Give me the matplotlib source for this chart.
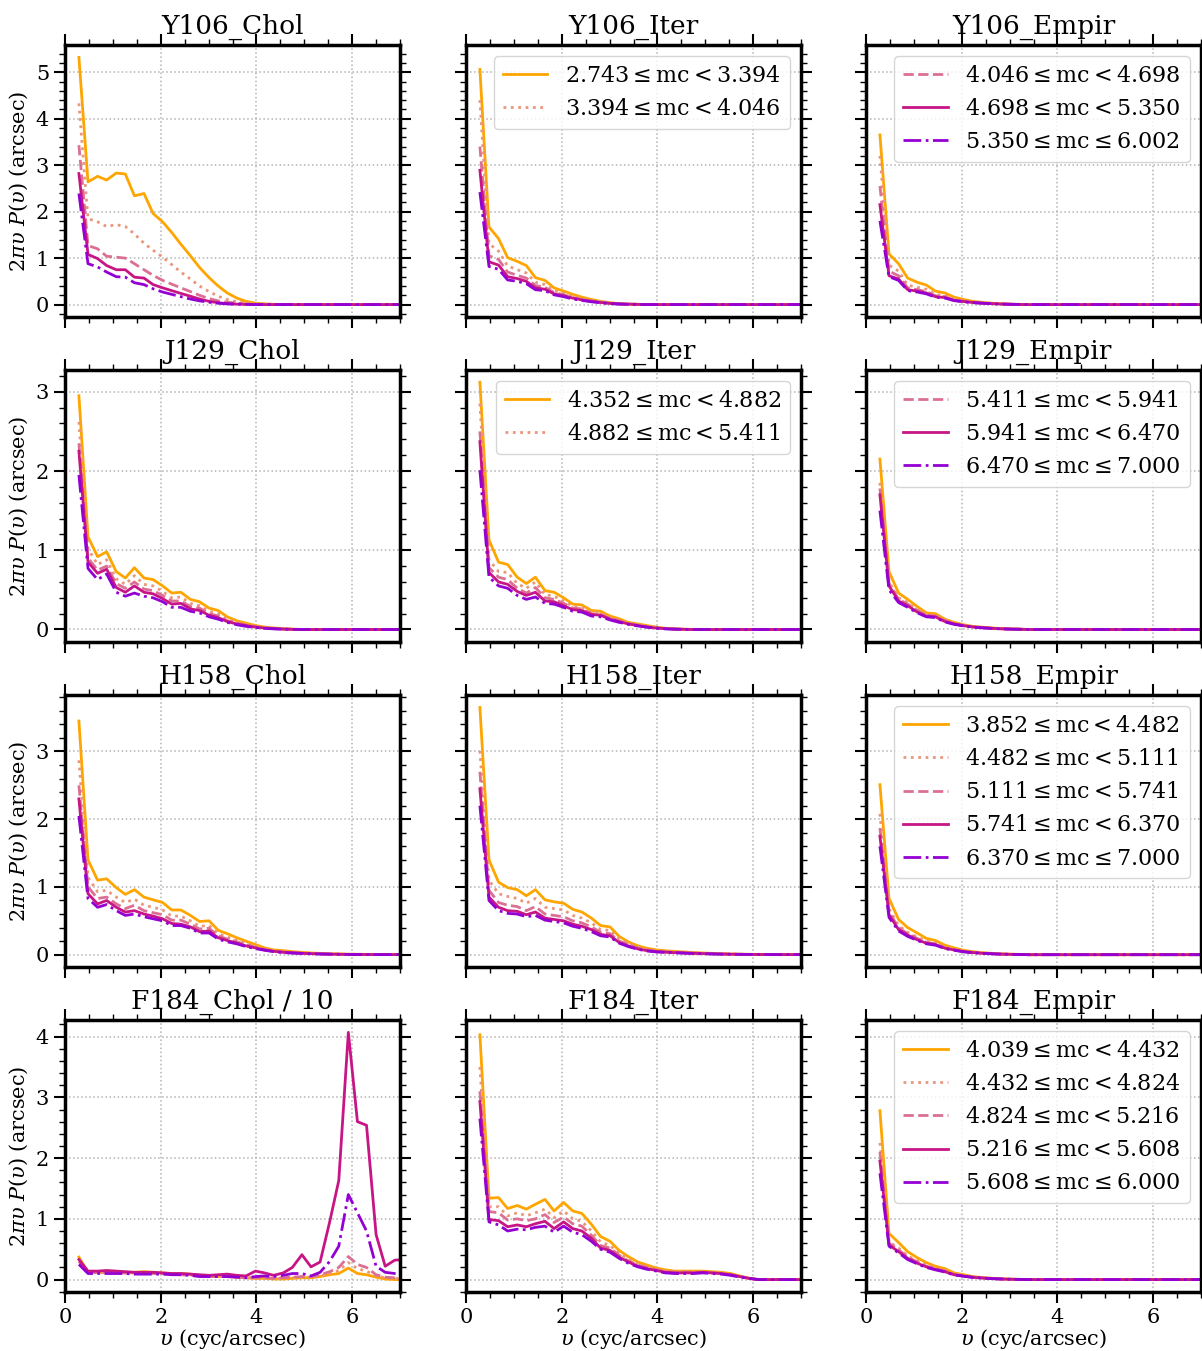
import numpy as np
import matplotlib.pyplot as plt
from matplotlib.ticker import AutoMinorLocator

plt.rcParams['font.family'] = 'serif'
plt.rcParams['font.serif'] = ['DejaVu Serif']
plt.rcParams['mathtext.fontset'] = 'dejavuserif'

# spatial frequency grid (cyc/arcsec)
freq = [0.29, 0.48, 0.68, 0.87, 1.07, 1.26, 1.45, 1.65, 1.84, 2.04, 2.23, 2.42,
        2.62, 2.81, 3.01, 3.20, 3.39, 3.59, 3.78, 3.98, 4.17, 4.36, 4.56, 4.75,
        4.95, 5.14, 5.33, 5.53, 5.72, 5.92, 6.11, 6.30, 6.50, 6.69, 6.89, 7.08]

filters = ['Y106', 'J129', 'H158', 'F184']
methods = ['Chol', 'Iter', 'Empir']

# magnitude-bin edges per filter
y106_edges = [2.743, 3.394, 4.046, 4.698, 5.350, 6.002]
j129_edges = [4.352, 4.882, 5.411, 5.941, 6.470, 7.000]
h158_edges = [3.852, 4.482, 5.111, 5.741, 6.370, 7.000]
f184_edges = [4.039, 4.432, 4.824, 5.216, 5.608, 6.000]

# 2 pi nu P(nu), one row per mc bin
y106_chol = [
    [5.32, 2.64, 2.76, 2.68, 2.83, 2.81, 2.34, 2.39, 1.96, 1.78, 1.55, 1.30, 1.05, 0.80, 0.58, 0.40, 0.25, 0.14,
     0.07, 0.03, 0.015, 0.005, 0, 0, 0, 0, 0, 0, 0, 0, 0, 0, 0, 0, 0, 0],
    [4.33, 1.85, 1.78, 1.68, 1.72, 1.68, 1.52, 1.32, 1.17, 1.02, 0.86, 0.70, 0.55, 0.40, 0.28, 0.18, 0.11, 0.06,
     0.03, 0.02, 0.01, 0.005, 0, 0, 0, 0, 0, 0, 0, 0, 0, 0, 0, 0, 0, 0],
    [3.43, 1.27, 1.20, 1.04, 1.02, 1.00, 0.88, 0.75, 0.63, 0.52, 0.44, 0.36, 0.28, 0.20, 0.13, 0.08, 0.05, 0.03,
     0.01, 0.005, 0, 0, 0, 0, 0, 0, 0, 0, 0, 0, 0, 0, 0, 0, 0, 0],
    [2.82, 1.08, 0.99, 0.84, 0.75, 0.75, 0.59, 0.57, 0.43, 0.36, 0.30, 0.24, 0.18, 0.12, 0.07, 0.04, 0.02, 0.01,
     0.005, 0, 0, 0, 0, 0, 0, 0, 0, 0, 0, 0, 0, 0, 0, 0, 0, 0],
    [2.39, 0.88, 0.81, 0.70, 0.60, 0.59, 0.47, 0.43, 0.34, 0.27, 0.22, 0.17, 0.12, 0.08, 0.05, 0.03, 0.015, 0.01,
     0.005, 0, 0, 0, 0, 0, 0, 0, 0, 0, 0, 0, 0, 0, 0, 0, 0, 0],
]
y106_iter = [
    [5.06, 1.67, 1.42, 1.01, 0.93, 0.84, 0.58, 0.52, 0.36, 0.29, 0.22, 0.16, 0.11, 0.07, 0.04, 0.02, 0.01, 0.005,
     0, 0, 0, 0, 0, 0, 0, 0, 0, 0, 0, 0, 0, 0, 0, 0, 0, 0],
    [4.40, 1.31, 1.15, 0.83, 0.75, 0.68, 0.48, 0.43, 0.30, 0.24, 0.18, 0.13, 0.09, 0.06, 0.035, 0.02, 0.01, 0.005,
     0, 0, 0, 0, 0, 0, 0, 0, 0, 0, 0, 0, 0, 0, 0, 0, 0, 0],
    [3.40, 1.05, 0.97, 0.70, 0.63, 0.57, 0.41, 0.37, 0.26, 0.21, 0.15, 0.11, 0.08, 0.05, 0.03, 0.015, 0.01, 0.005,
     0, 0, 0, 0, 0, 0, 0, 0, 0, 0, 0, 0, 0, 0, 0, 0, 0, 0],
    [2.89, 0.92, 0.85, 0.60, 0.56, 0.50, 0.36, 0.33, 0.23, 0.19, 0.14, 0.10, 0.07, 0.045, 0.025, 0.015, 0.01, 0.005,
     0, 0, 0, 0, 0, 0, 0, 0, 0, 0, 0, 0, 0, 0, 0, 0, 0, 0],
    [2.42, 0.82, 0.76, 0.53, 0.50, 0.45, 0.32, 0.30, 0.21, 0.17, 0.12, 0.09, 0.06, 0.04, 0.02, 0.01, 0.005, 0,
     0, 0, 0, 0, 0, 0, 0, 0, 0, 0, 0, 0, 0, 0, 0, 0, 0, 0],
]
y106_empir = [
    [3.65, 1.09, 0.88, 0.57, 0.48, 0.42, 0.29, 0.25, 0.16, 0.11, 0.07, 0.05, 0.03, 0.02, 0.01, 0.005,
     0, 0, 0, 0, 0, 0, 0, 0, 0, 0, 0, 0, 0, 0, 0, 0, 0, 0, 0, 0],
    [3.20, 0.85, 0.72, 0.42, 0.37, 0.33, 0.22, 0.19, 0.12, 0.085, 0.055, 0.04, 0.025, 0.015, 0.01, 0.005,
     0, 0, 0, 0, 0, 0, 0, 0, 0, 0, 0, 0, 0, 0, 0, 0, 0, 0, 0, 0],
    [2.55, 0.72, 0.62, 0.36, 0.32, 0.28, 0.19, 0.17, 0.10, 0.075, 0.05, 0.035, 0.02, 0.013, 0.008, 0.004,
     0, 0, 0, 0, 0, 0, 0, 0, 0, 0, 0, 0, 0, 0, 0, 0, 0, 0, 0, 0],
    [2.15, 0.62, 0.55, 0.32, 0.29, 0.25, 0.17, 0.15, 0.09, 0.065, 0.045, 0.03, 0.02, 0.012, 0.007, 0.003,
     0, 0, 0, 0, 0, 0, 0, 0, 0, 0, 0, 0, 0, 0, 0, 0, 0, 0, 0, 0],
    [1.80, 0.60, 0.52, 0.30, 0.27, 0.23, 0.16, 0.14, 0.085, 0.06, 0.04, 0.03, 0.02, 0.01, 0.006, 0.003,
     0, 0, 0, 0, 0, 0, 0, 0, 0, 0, 0, 0, 0, 0, 0, 0, 0, 0, 0, 0],
]

j129_chol = [
    [2.95, 1.17, 0.92, 0.98, 0.73, 0.65, 0.78, 0.65, 0.63, 0.55, 0.46, 0.47, 0.38, 0.35, 0.27, 0.24, 0.16, 0.11,
     0.08, 0.05, 0.03, 0.02, 0.01, 0.005, 0, 0, 0, 0, 0, 0, 0, 0, 0, 0, 0, 0],
    [2.62, 1.02, 0.82, 0.88, 0.64, 0.57, 0.68, 0.57, 0.55, 0.48, 0.40, 0.41, 0.33, 0.30, 0.23, 0.20, 0.13, 0.09,
     0.065, 0.04, 0.025, 0.015, 0.01, 0.005, 0, 0, 0, 0, 0, 0, 0, 0, 0, 0, 0, 0],
    [2.35, 0.90, 0.75, 0.80, 0.58, 0.52, 0.60, 0.51, 0.49, 0.43, 0.36, 0.36, 0.29, 0.27, 0.20, 0.17, 0.11, 0.08,
     0.055, 0.035, 0.02, 0.012, 0.006, 0.003, 0, 0, 0, 0, 0, 0, 0, 0, 0, 0, 0, 0],
    [2.25, 0.85, 0.71, 0.76, 0.53, 0.47, 0.55, 0.47, 0.45, 0.39, 0.32, 0.33, 0.26, 0.24, 0.18, 0.15, 0.10, 0.07,
     0.05, 0.03, 0.018, 0.01, 0.005, 0.002, 0, 0, 0, 0, 0, 0, 0, 0, 0, 0, 0, 0],
    [1.95, 0.77, 0.63, 0.70, 0.47, 0.42, 0.46, 0.42, 0.40, 0.35, 0.28, 0.28, 0.23, 0.21, 0.16, 0.13, 0.09, 0.06,
     0.04, 0.025, 0.015, 0.008, 0.004, 0.002, 0, 0, 0, 0, 0, 0, 0, 0, 0, 0, 0, 0],
]
j129_iter = [
    [3.12, 1.13, 0.85, 0.82, 0.66, 0.58, 0.66, 0.49, 0.47, 0.40, 0.32, 0.31, 0.24, 0.23, 0.17, 0.135, 0.09, 0.07,
     0.05, 0.03, 0.015, 0.008, 0.004, 0, 0, 0, 0, 0, 0, 0, 0, 0, 0, 0, 0, 0],
    [2.85, 0.88, 0.73, 0.72, 0.58, 0.52, 0.60, 0.44, 0.42, 0.36, 0.29, 0.28, 0.22, 0.21, 0.15, 0.12, 0.08, 0.06,
     0.04, 0.025, 0.012, 0.006, 0.003, 0, 0, 0, 0, 0, 0, 0, 0, 0, 0, 0, 0, 0],
    [2.50, 0.78, 0.66, 0.63, 0.52, 0.46, 0.53, 0.40, 0.38, 0.33, 0.27, 0.26, 0.20, 0.19, 0.14, 0.11, 0.075, 0.055,
     0.035, 0.02, 0.01, 0.005, 0.003, 0, 0, 0, 0, 0, 0, 0, 0, 0, 0, 0, 0, 0],
    [2.37, 0.72, 0.60, 0.57, 0.48, 0.43, 0.47, 0.36, 0.35, 0.30, 0.25, 0.24, 0.19, 0.18, 0.13, 0.10, 0.07, 0.05,
     0.03, 0.018, 0.01, 0.005, 0.002, 0, 0, 0, 0, 0, 0, 0, 0, 0, 0, 0, 0, 0],
    [2.01, 0.66, 0.55, 0.52, 0.43, 0.38, 0.41, 0.33, 0.32, 0.28, 0.23, 0.22, 0.17, 0.16, 0.12, 0.09, 0.065, 0.045,
     0.03, 0.016, 0.008, 0.004, 0.002, 0, 0, 0, 0, 0, 0, 0, 0, 0, 0, 0, 0, 0],
]
j129_empir = [
    [2.15, 0.73, 0.46, 0.38, 0.29, 0.21, 0.20, 0.13, 0.09, 0.06, 0.04, 0.03, 0.02, 0.012, 0.008, 0.005,
     0, 0, 0, 0, 0, 0, 0, 0, 0, 0, 0, 0, 0, 0, 0, 0, 0, 0, 0, 0],
    [1.85, 0.60, 0.40, 0.34, 0.25, 0.19, 0.18, 0.12, 0.08, 0.055, 0.037, 0.027, 0.018, 0.011, 0.007, 0.004,
     0, 0, 0, 0, 0, 0, 0, 0, 0, 0, 0, 0, 0, 0, 0, 0, 0, 0, 0, 0],
    [1.78, 0.58, 0.38, 0.32, 0.24, 0.18, 0.17, 0.11, 0.075, 0.05, 0.034, 0.025, 0.016, 0.01, 0.006, 0.004,
     0, 0, 0, 0, 0, 0, 0, 0, 0, 0, 0, 0, 0, 0, 0, 0, 0, 0, 0, 0],
    [1.70, 0.55, 0.36, 0.30, 0.22, 0.17, 0.16, 0.10, 0.07, 0.048, 0.032, 0.023, 0.015, 0.009, 0.005, 0.003,
     0, 0, 0, 0, 0, 0, 0, 0, 0, 0, 0, 0, 0, 0, 0, 0, 0, 0, 0, 0],
    [1.50, 0.50, 0.34, 0.28, 0.21, 0.16, 0.15, 0.095, 0.065, 0.045, 0.03, 0.021, 0.014, 0.008, 0.005, 0.003,
     0, 0, 0, 0, 0, 0, 0, 0, 0, 0, 0, 0, 0, 0, 0, 0, 0, 0, 0, 0],
]

h158_chol = [
    [3.45, 1.40, 1.10, 1.12, 0.99, 0.89, 0.96, 0.85, 0.81, 0.77, 0.66, 0.66, 0.58, 0.49, 0.50, 0.36, 0.31, 0.25,
     0.20, 0.15, 0.10, 0.07, 0.06, 0.045, 0.035, 0.025, 0.02, 0.015, 0.01, 0.008, 0.006, 0.005, 0.004, 0.003, 0.003, 0.002],
    [2.87, 1.14, 0.93, 0.95, 0.85, 0.77, 0.82, 0.73, 0.70, 0.66, 0.57, 0.57, 0.50, 0.42, 0.43, 0.31, 0.26, 0.21,
     0.17, 0.12, 0.085, 0.06, 0.045, 0.035, 0.027, 0.02, 0.015, 0.012, 0.008, 0.006, 0.005, 0.004, 0.003, 0.002, 0.002, 0.001],
    [2.50, 1.00, 0.83, 0.85, 0.75, 0.68, 0.73, 0.65, 0.62, 0.59, 0.51, 0.51, 0.45, 0.38, 0.39, 0.28, 0.23, 0.19,
     0.15, 0.11, 0.075, 0.053, 0.04, 0.03, 0.023, 0.017, 0.013, 0.01, 0.007, 0.005, 0.004, 0.003, 0.002, 0.002, 0.001, 0.001],
    [2.30, 0.90, 0.75, 0.80, 0.70, 0.63, 0.65, 0.60, 0.57, 0.53, 0.46, 0.45, 0.41, 0.34, 0.35, 0.25, 0.21, 0.17,
     0.13, 0.10, 0.07, 0.05, 0.035, 0.027, 0.02, 0.015, 0.011, 0.008, 0.006, 0.004, 0.003, 0.002, 0.002, 0.001, 0.001, 0.001],
    [2.05, 0.83, 0.70, 0.74, 0.65, 0.58, 0.60, 0.56, 0.53, 0.50, 0.43, 0.43, 0.39, 0.32, 0.32, 0.23, 0.19, 0.16,
     0.12, 0.09, 0.065, 0.045, 0.03, 0.024, 0.018, 0.013, 0.01, 0.007, 0.005, 0.004, 0.003, 0.002, 0.001, 0.001, 0.001, 0.001],
]
h158_iter = [
    [3.65, 1.40, 1.07, 0.99, 0.96, 0.87, 0.96, 0.81, 0.78, 0.76, 0.67, 0.63, 0.54, 0.43, 0.41, 0.27, 0.19, 0.13,
     0.095, 0.07, 0.058, 0.048, 0.04, 0.032, 0.025, 0.02, 0.015, 0.01, 0.008, 0.006, 0.004, 0.003, 0.002, 0.002, 0.001, 0.001],
    [3.01, 1.10, 0.90, 0.86, 0.83, 0.76, 0.83, 0.70, 0.68, 0.66, 0.58, 0.54, 0.47, 0.37, 0.36, 0.23, 0.17, 0.11,
     0.08, 0.06, 0.05, 0.04, 0.033, 0.027, 0.021, 0.016, 0.012, 0.009, 0.007, 0.005, 0.004, 0.003, 0.002, 0.001, 0.001, 0.001],
    [2.70, 0.95, 0.77, 0.73, 0.71, 0.65, 0.71, 0.60, 0.58, 0.56, 0.50, 0.47, 0.41, 0.33, 0.31, 0.20, 0.15, 0.095,
     0.07, 0.05, 0.042, 0.035, 0.028, 0.023, 0.018, 0.014, 0.01, 0.008, 0.006, 0.004, 0.003, 0.002, 0.002, 0.001, 0.001, 0.001],
    [2.45, 0.85, 0.70, 0.65, 0.64, 0.59, 0.63, 0.54, 0.52, 0.50, 0.45, 0.42, 0.37, 0.30, 0.28, 0.18, 0.13, 0.085,
     0.06, 0.045, 0.037, 0.03, 0.025, 0.02, 0.016, 0.012, 0.009, 0.007, 0.005, 0.004, 0.003, 0.002, 0.001, 0.001, 0.001, 0.001],
    [2.20, 0.80, 0.65, 0.61, 0.60, 0.56, 0.58, 0.51, 0.49, 0.47, 0.42, 0.39, 0.34, 0.28, 0.26, 0.17, 0.12, 0.08,
     0.055, 0.04, 0.034, 0.028, 0.023, 0.018, 0.014, 0.011, 0.008, 0.006, 0.005, 0.004, 0.003, 0.002, 0.001, 0.001, 0.001, 0.001],
]
h158_empir = [
    [2.51, 0.83, 0.52, 0.40, 0.32, 0.24, 0.21, 0.14, 0.10, 0.064, 0.045, 0.03, 0.02, 0.013, 0.008, 0.005,
     0, 0, 0, 0, 0, 0, 0, 0, 0, 0, 0, 0, 0, 0, 0, 0, 0, 0, 0, 0],
    [2.08, 0.68, 0.43, 0.33, 0.26, 0.20, 0.17, 0.11, 0.08, 0.052, 0.036, 0.025, 0.016, 0.01, 0.006, 0.004,
     0, 0, 0, 0, 0, 0, 0, 0, 0, 0, 0, 0, 0, 0, 0, 0, 0, 0, 0, 0],
    [1.87, 0.63, 0.40, 0.31, 0.24, 0.18, 0.16, 0.10, 0.075, 0.048, 0.033, 0.023, 0.015, 0.009, 0.006, 0.003,
     0, 0, 0, 0, 0, 0, 0, 0, 0, 0, 0, 0, 0, 0, 0, 0, 0, 0, 0, 0],
    [1.75, 0.59, 0.37, 0.29, 0.22, 0.17, 0.15, 0.095, 0.07, 0.045, 0.031, 0.021, 0.014, 0.008, 0.005, 0.003,
     0, 0, 0, 0, 0, 0, 0, 0, 0, 0, 0, 0, 0, 0, 0, 0, 0, 0, 0, 0],
    [1.60, 0.55, 0.35, 0.27, 0.21, 0.16, 0.14, 0.09, 0.065, 0.042, 0.029, 0.02, 0.013, 0.008, 0.005, 0.003,
     0, 0, 0, 0, 0, 0, 0, 0, 0, 0, 0, 0, 0, 0, 0, 0, 0, 0, 0, 0],
]

# F184 Cholesky spectra are shown divided by 10
f184_chol = [
    [0.37, 0.12, 0.12, 0.12, 0.12, 0.12, 0.12, 0.13, 0.12, 0.11, 0.10, 0.10, 0.09, 0.07, 0.06, 0.05, 0.05, 0.04,
     0.03, 0.02, 0.02, 0.01, 0.01, 0.02, 0.03, 0.03, 0.05, 0.08, 0.10, 0.19, 0.10, 0.08, 0.04, 0.01, 0.0, 0.0],
    [0.34, 0.12, 0.12, 0.12, 0.12, 0.11, 0.11, 0.11, 0.11, 0.10, 0.10, 0.09, 0.08, 0.07, 0.06, 0.05, 0.05, 0.04,
     0.03, 0.03, 0.02, 0.02, 0.02, 0.03, 0.04, 0.04, 0.06, 0.10, 0.15, 0.28, 0.18, 0.14, 0.06, 0.03, 0.02, 0.02],
    [0.30, 0.12, 0.12, 0.12, 0.11, 0.11, 0.11, 0.10, 0.10, 0.10, 0.09, 0.08, 0.07, 0.06, 0.05, 0.05, 0.05, 0.04,
     0.03, 0.03, 0.03, 0.02, 0.03, 0.04, 0.05, 0.05, 0.08, 0.13, 0.20, 0.38, 0.25, 0.20, 0.08, 0.04, 0.03, 0.03],
    [0.33, 0.14, 0.14, 0.15, 0.14, 0.13, 0.12, 0.12, 0.12, 0.11, 0.10, 0.10, 0.09, 0.08, 0.07, 0.08, 0.09, 0.07,
     0.06, 0.14, 0.11, 0.07, 0.11, 0.20, 0.41, 0.21, 0.29, 0.95, 1.63, 4.07, 2.60, 2.54, 0.74, 0.22, 0.32, 0.33],
    [0.25, 0.10, 0.10, 0.10, 0.10, 0.10, 0.09, 0.09, 0.09, 0.09, 0.08, 0.08, 0.07, 0.05, 0.05, 0.05, 0.05, 0.04,
     0.03, 0.05, 0.06, 0.05, 0.07, 0.10, 0.10, 0.06, 0.12, 0.30, 0.55, 1.40, 1.10, 0.80, 0.22, 0.12, 0.10, 0.10],
]
f184_iter = [
    [4.03, 1.34, 1.35, 1.17, 1.22, 1.16, 1.24, 1.32, 1.13, 1.27, 1.13, 1.09, 0.91, 0.71, 0.63, 0.48, 0.38, 0.29,
     0.24, 0.19, 0.16, 0.14, 0.14, 0.14, 0.14, 0.13, 0.12, 0.10, 0.06, 0.02, 0, 0, 0, 0, 0, 0],
    [3.50, 1.20, 1.20, 1.05, 1.10, 1.05, 1.10, 1.16, 1.02, 1.13, 1.00, 0.96, 0.80, 0.62, 0.56, 0.43, 0.34, 0.26,
     0.21, 0.17, 0.14, 0.13, 0.13, 0.13, 0.13, 0.12, 0.11, 0.09, 0.05, 0.02, 0, 0, 0, 0, 0, 0],
    [3.10, 1.12, 1.10, 0.98, 1.00, 0.97, 1.00, 1.07, 0.94, 1.03, 0.92, 0.88, 0.73, 0.56, 0.52, 0.40, 0.31, 0.24,
     0.20, 0.16, 0.13, 0.12, 0.12, 0.12, 0.12, 0.11, 0.10, 0.08, 0.05, 0.02, 0, 0, 0, 0, 0, 0],
    [2.93, 0.99, 0.97, 0.87, 0.90, 0.87, 0.92, 0.96, 0.84, 0.95, 0.84, 0.80, 0.68, 0.52, 0.48, 0.37, 0.29, 0.22,
     0.18, 0.15, 0.12, 0.11, 0.11, 0.11, 0.12, 0.11, 0.10, 0.08, 0.05, 0.02, 0, 0, 0, 0, 0, 0],
    [2.65, 0.95, 0.90, 0.80, 0.83, 0.82, 0.86, 0.88, 0.78, 0.88, 0.78, 0.74, 0.63, 0.50, 0.45, 0.35, 0.27, 0.21,
     0.17, 0.14, 0.11, 0.10, 0.10, 0.10, 0.11, 0.10, 0.09, 0.07, 0.04, 0.02, 0, 0, 0, 0, 0, 0],
]
f184_empir = [
    [2.78, 0.76, 0.61, 0.46, 0.36, 0.28, 0.22, 0.18, 0.11, 0.08, 0.05, 0.035, 0.022, 0.014, 0.008, 0.005,
     0, 0, 0, 0, 0, 0, 0, 0, 0, 0, 0, 0, 0, 0, 0, 0, 0, 0, 0, 0],
    [2.25, 0.62, 0.52, 0.39, 0.31, 0.24, 0.19, 0.15, 0.09, 0.065, 0.043, 0.03, 0.019, 0.012, 0.007, 0.004,
     0, 0, 0, 0, 0, 0, 0, 0, 0, 0, 0, 0, 0, 0, 0, 0, 0, 0, 0, 0],
    [2.10, 0.60, 0.49, 0.37, 0.29, 0.22, 0.18, 0.14, 0.085, 0.06, 0.04, 0.028, 0.018, 0.011, 0.006, 0.004,
     0, 0, 0, 0, 0, 0, 0, 0, 0, 0, 0, 0, 0, 0, 0, 0, 0, 0, 0, 0],
    [1.95, 0.57, 0.46, 0.35, 0.27, 0.21, 0.17, 0.13, 0.08, 0.057, 0.038, 0.026, 0.017, 0.01, 0.006, 0.003,
     0, 0, 0, 0, 0, 0, 0, 0, 0, 0, 0, 0, 0, 0, 0, 0, 0, 0, 0, 0],
    [1.75, 0.55, 0.44, 0.33, 0.26, 0.20, 0.16, 0.125, 0.077, 0.055, 0.036, 0.025, 0.016, 0.01, 0.006, 0.003,
     0, 0, 0, 0, 0, 0, 0, 0, 0, 0, 0, 0, 0, 0, 0, 0, 0, 0, 0, 0],
]

spectra = [[y106_chol, y106_iter, y106_empir],
           [j129_chol, j129_iter, j129_empir],
           [h158_chol, h158_iter, h158_empir],
           [f184_chol, f184_iter, f184_empir]]
edges = [y106_edges, j129_edges, h158_edges, f184_edges]

colors = ['orange', 'darksalmon', 'palevioletred', 'mediumvioletred', 'darkviolet']
styles = ['-', ':', '--', '-', '-.']

fig = plt.figure(figsize=(12.02, 13.51), dpi=100)
lefts = [0.0541, 0.3877, 0.7205]
bottoms = [0.7654, 0.5249, 0.2842, 0.0437]
w, h = 0.2787, 0.2013

for i, filt in enumerate(filters):
    e = edges[i]
    labels = []
    for k in range(5):
        op = r'\leq' if k == 4 else '<'
        labels.append(r'$%.3f \leq \mathrm{mc} %s %.3f$' % (e[k], op, e[k + 1]))
    row_ax = None
    for j, meth in enumerate(methods):
        ax = fig.add_axes([lefts[j], bottoms[i], w, h], sharey=row_ax)
        if row_ax is None:
            row_ax = ax
        lines = []
        for k in range(5):
            l, = ax.plot(freq, spectra[i][j][k], color=colors[k], ls=styles[k], lw=2, label=labels[k])
            lines.append(l)
        ax.set_xlim(0, 7)
        title = filt + '_' + meth
        if filt == 'F184' and meth == 'Chol':
            title += ' / 10'
        ax.set_title(title, fontsize=19, pad=8)
        ax.grid(True, ls=':', color='0.7', lw=1.1)
        ax.xaxis.set_minor_locator(AutoMinorLocator())
        ax.yaxis.set_minor_locator(AutoMinorLocator())
        ax.tick_params(which='both', direction='out', top=True, right=True, labelsize=15)
        ax.tick_params(which='major', length=8, width=1.5)
        ax.tick_params(which='minor', length=4, width=1)
        for s in ax.spines.values():
            s.set_linewidth(2.5)
        if j == 0:
            ax.set_ylabel(r'$2\pi\upsilon\ P(\upsilon)$ (arcsec)', fontsize=15)
        else:
            ax.tick_params(labelleft=False)
        if i == 3:
            ax.set_xlabel(r'$\upsilon$ (cyc/arcsec)', fontsize=15, labelpad=0)
        else:
            ax.tick_params(labelbottom=False)

        # legend split across the Iter/Empir panels
        if i < 2:
            if j == 1:
                ax.legend(lines[:2], labels[:2], loc='upper right', fontsize=16)
            elif j == 2:
                ax.legend(lines[2:], labels[2:], loc='upper right', fontsize=16)
        elif j == 2:
            ax.legend(lines, labels, loc='upper right', fontsize=16)

fig.savefig('out.png', dpi=100)
